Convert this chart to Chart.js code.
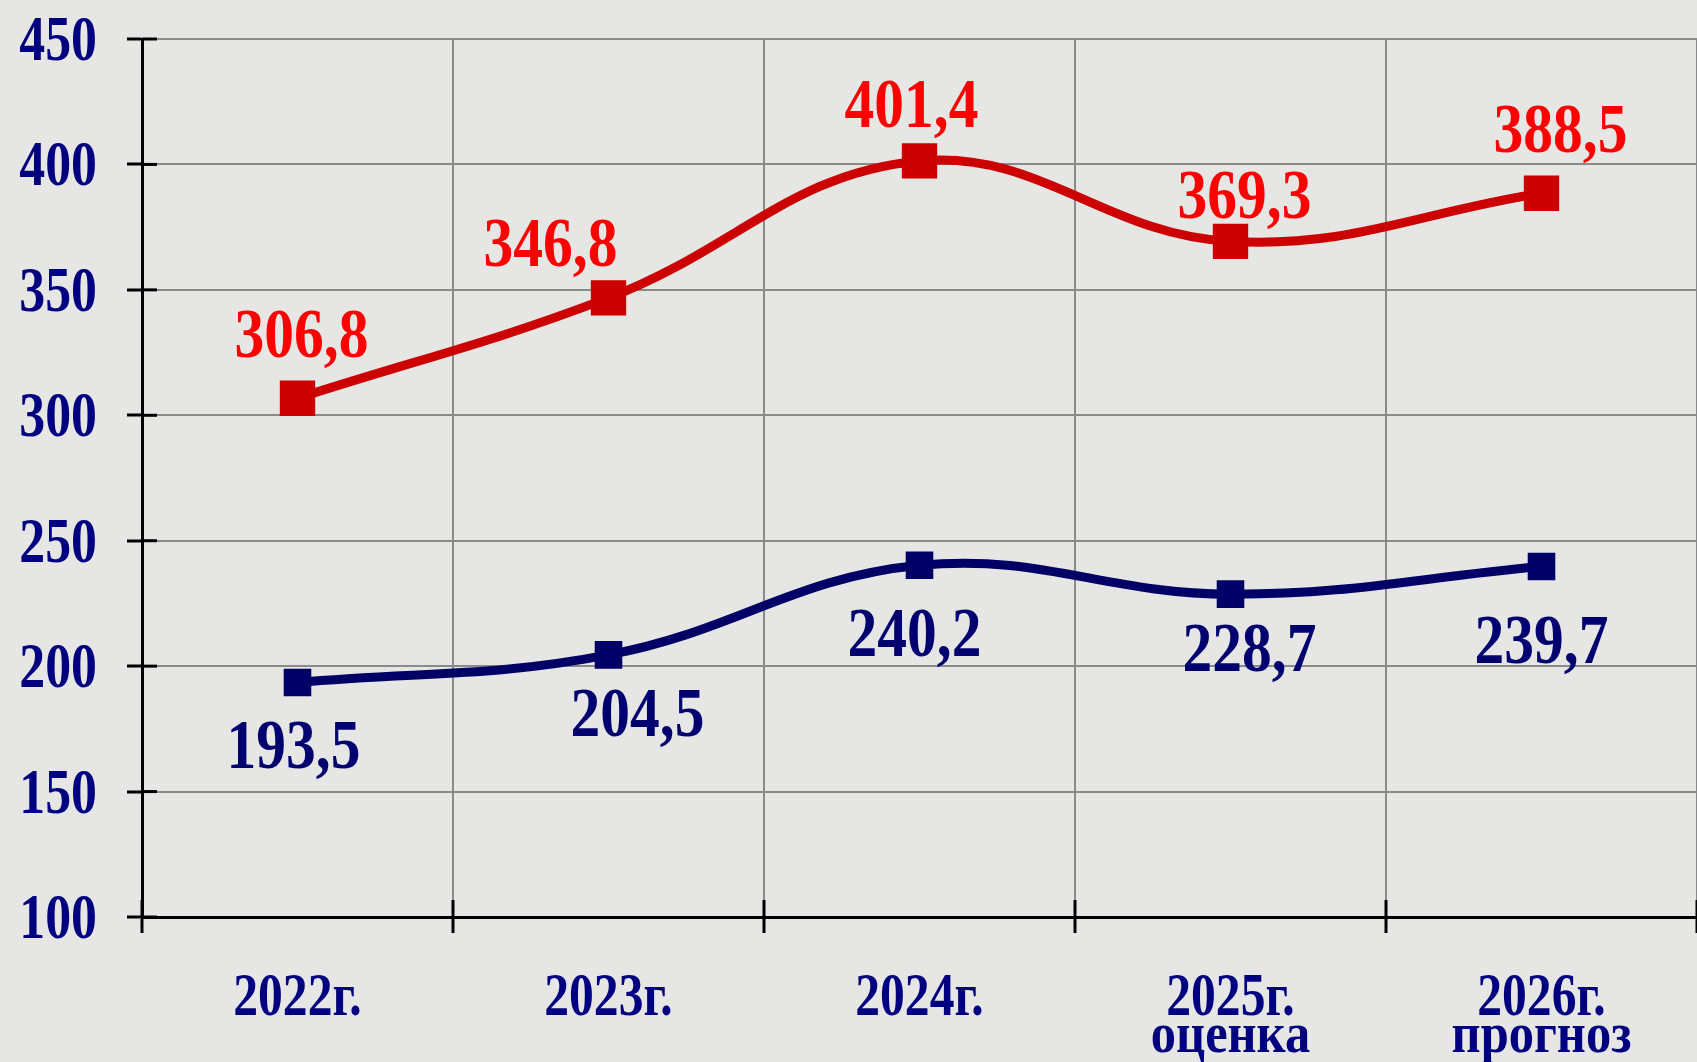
<!DOCTYPE html>
<html>
<head>
<meta charset="utf-8">
<script src="https://cdn.jsdelivr.net/npm/chart.js@4"></script>
<style>
    html, body { margin: 0; padding: 0; background: #e6e6e4; }
    canvas { display: block; }
</style>
</head>
<body>
<canvas id="chart" width="1697" height="1062"></canvas>
<script>
    const years = ['2022г.', '2023г.', '2024г.', ['2025г.', 'оценка'], ['2026г.', 'прогноз']];
    const redValues = [306.8, 346.8, 401.4, 369.3, 388.5];
    const blueValues = [193.5, 204.5, 240.2, 228.7, 239.7];
    const yMin = 100;
    const yMax = 450;
    const yStep = 50;

    // label nudges as placed by hand in the original (px, baseline relative to point)
    const redLabelDx = [4, -58, -8, 14, 19];
    const redLabelDy = [-41, -32, -34, -23, -41];
    const blueLabelDx = [-4, 29, -5, 19, 0];
    const blueLabelDy = [86, 81, 91, 77, 96];

    const serif = '"Liberation Serif", "Times New Roman", serif';

    function drawText(ctx, text, x, y, size, color, sx, align) {
        ctx.save();
        ctx.font = 'bold ' + size + 'px ' + serif;
        ctx.fillStyle = color;
        ctx.textAlign = align;
        ctx.textBaseline = 'alphabetic';
        ctx.translate(x, y);
        ctx.scale(sx, 1);
        ctx.fillText(text, 0, 0);
        ctx.restore();
    }

    const fmt = v => v.toFixed(1).replace('.', ',');

    const textPlugin = {
        id: 'textPlugin',
        beforeDraw(chart) {
            const ctx = chart.ctx;
            ctx.save();
            ctx.fillStyle = '#e6e6e4';
            ctx.fillRect(0, 0, chart.width, chart.height);
            ctx.restore();
        },
        afterDatasetsDraw(chart) {
            const ctx = chart.ctx;
            const red = chart.getDatasetMeta(0).data;
            const blue = chart.getDatasetMeta(1).data;
            red.forEach((p, i) => {
                drawText(ctx, fmt(redValues[i]), p.x + redLabelDx[i], p.y + redLabelDy[i], 70, '#ff0000', 0.85, 'center');
            });
            blue.forEach((p, i) => {
                drawText(ctx, fmt(blueValues[i]), p.x + blueLabelDx[i], p.y + blueLabelDy[i], 70, '#000070', 0.85, 'center');
            });
        },
        afterDraw(chart) {
            const ctx = chart.ctx;
            const { left, bottom } = chart.chartArea;
            const xs = chart.scales.x;
            const ys = chart.scales.y;

            // inner halves of the cross ticks
            ctx.save();
            ctx.strokeStyle = '#000';
            ctx.lineWidth = 3;
            ys.ticks.forEach((t, i) => {
                const py = ys.getPixelForTick(i);
                ctx.beginPath();
                ctx.moveTo(left, py);
                ctx.lineTo(left + 15, py);
                ctx.stroke();
            });
            for (let i = 0; i <= years.length; i++) {
                const px = xs.getPixelForValue(i - 0.5);
                ctx.beginPath();
                ctx.moveTo(px, bottom);
                ctx.lineTo(px, bottom - 17);
                ctx.stroke();
            }
            ctx.restore();

            // y tick labels
            ys.ticks.forEach((t, i) => {
                const py = ys.getPixelForTick(i);
                drawText(ctx, String(t.value), left - 45, py + 21, 64, '#000080', 0.81, 'right');
            });

            // x tick labels
            years.forEach((lab, i) => {
                const px = xs.getPixelForValue(i);
                const lines = Array.isArray(lab) ? lab : [lab];
                drawText(ctx, lines[0], px, bottom + 98, 62, '#000080', 0.8, 'center');
                if (lines[1]) {
                    drawText(ctx, lines[1], px, bottom + 135, 58, '#000080', 0.87, 'center');
                }
            });
        }
    };

    new Chart(document.getElementById('chart').getContext('2d'), {
        type: 'line',
        data: {
            labels: years,
            datasets: [{
                label: 'red',
                data: redValues,
                borderColor: '#cc0000',
                borderWidth: 9,
                tension: 0.4,
                pointStyle: 'rect',
                pointRadius: 25,
                pointBackgroundColor: '#cc0000',
                pointBorderColor: '#cc0000',
                pointBorderWidth: 0
            }, {
                label: 'blue',
                data: blueValues,
                borderColor: '#000066',
                borderWidth: 9,
                tension: 0.4,
                pointStyle: 'rect',
                pointRadius: 19.5,
                pointBackgroundColor: '#000066',
                pointBorderColor: '#000066',
                pointBorderWidth: 0
            }]
        },
        options: {
            responsive: false,
            devicePixelRatio: 1,
            animation: false,
            layout: { autoPadding: false, padding: { top: 39, right: 0, left: 0, bottom: 0 } },
            plugins: {
                legend: { display: false },
                tooltip: { enabled: false }
            },
            scales: {
                x: {
                    offset: true,
                    grid: {
                        offset: true,
                        color: '#8a8a8a',
                        lineWidth: 2,
                        tickLength: 16,
                        tickColor: '#000',
                        tickWidth: 3
                    },
                    border: { color: '#000', width: 3 },
                    ticks: { display: false },
                    afterFit: s => { s.height = 145; }
                },
                y: {
                    min: yMin,
                    max: yMax,
                    ticks: { display: false, stepSize: yStep },
                    grid: {
                        color: '#8a8a8a',
                        lineWidth: 2,
                        tickLength: 15,
                        tickColor: '#000',
                        tickWidth: 3
                    },
                    border: { color: '#000', width: 3 },
                    afterFit: s => { s.width = 142; }
                }
            }
        },
        plugins: [textPlugin]
    });
</script>
</body>
</html>
